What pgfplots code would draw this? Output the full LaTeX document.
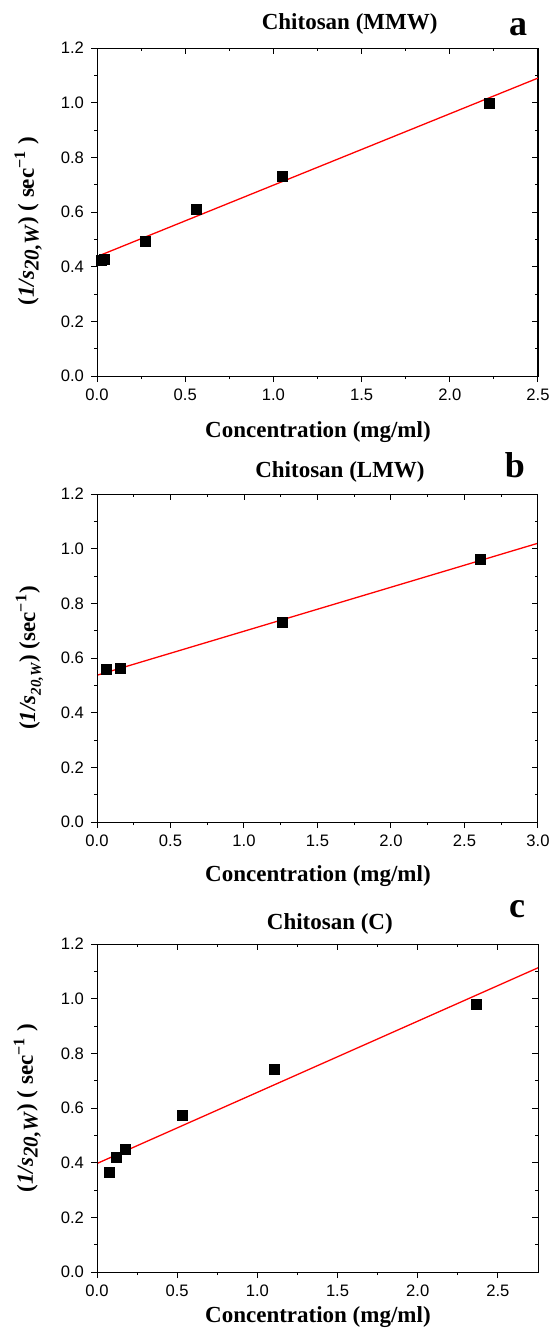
\documentclass[border=0pt]{standalone}
\usepackage{fontspec}
\setmainfont{Liberation Serif}
\setsansfont{Liberation Sans}
\usepackage{pgfplots}
\pgfplotsset{compat=1.18}

\newcommand{\ylabA}{\bfseries (\textit{1/s}\raisebox{-0.45ex}{\textit{\fontsize{10.5}{11}\selectfont 20,W}}) ( sec\textsuperscript{\bfseries −1} )}
\newcommand{\ylabB}{\bfseries (\textit{1/s}\raisebox{-0.55ex}{\textit{\fontsize{7.5}{8}\selectfont 20,W}}) (sec\textsuperscript{−1})}

\pgfplotsset{
  every axis title shift=0pt,
  base/.style={
    scale only axis, width=220.5pt, height=164pt,
    xmin=0, ymin=0, ymax=1.2,
    ytick={0,0.2,...,1.2},
    minor x tick num=1, minor y tick num=1,
    major tick length=3pt, minor tick length=1.5pt,
    axis line style={line width=0.5pt, black},
    every tick/.style={black, line width=0.5pt},
    tick label style={font=\fontsize{8.3}{9}\selectfont\sffamily},
    /pgf/number format/.cd, fixed, fixed zerofill, precision=1, assume math mode=true,
  },
  main/.style={
    base, tick align=outside, xtick pos=left, ytick pos=left,
    xlabel={Concentration (mg/ml)},
    label style={font=\fontsize{11.5}{13}\selectfont\bfseries},
    title style={font=\fontsize{11.5}{13}\selectfont\bfseries, anchor=center},
    xlabel style={anchor=center},
    ylabel style={anchor=center},
  },
  over/.style={
    base, tick align=inside, xtick pos=right, ytick pos=right,
    xticklabels={}, yticklabels={},
  },
  pts/.style={only marks, mark=square*, mark size=2.5pt, black},
  fit/.style={no marks, red, line width=0.65pt},
}

\begin{document}
\begin{tikzpicture}
\useasboundingbox (0pt,0pt) rectangle (276pt,-664.5pt);

% ---------- Panel a ----------
\begin{axis}[main, at={(48.5pt,-24pt)}, anchor=north west,
  xmax=2.5, xtick={0,0.5,...,2.5},
  title={Chitosan (MMW)}, title style={at={(axis description cs:0.573,1.073)}},
  xlabel style={at={(axis description cs:0.501,-0.171)}},
  ylabel={\ylabA}, ylabel style={at={(axis description cs:-0.156,0.472)}}]
\addplot[fit] coordinates {(0,0.437) (2.5,1.090)};
\addplot[pts] coordinates {(0.024,0.423) (0.044,0.427) (0.273,0.493) (0.563,0.610) (1.053,0.731) (2.223,0.999)};
\end{axis}
\begin{axis}[over, at={(48.5pt,-24pt)}, anchor=north west, xmax=2.5, xtick={0,0.5,...,2.5}]
\end{axis}
\node[font=\fontsize{18}{20}\selectfont\bfseries] at (259pt,-13.5pt) {a};

% ---------- Panel b ----------
\begin{axis}[main, at={(48.5pt,-247pt)}, anchor=north west,
  xmax=3, xtick={0,0.5,...,3},
  title={Chitosan (LMW)}, title style={at={(axis description cs:0.551,1.067)}},
  xlabel style={at={(axis description cs:0.501,-0.165)}},
  ylabel={\ylabB}, ylabel style={at={(axis description cs:-0.153,0.5)}}]
\addplot[fit] coordinates {(0,0.537) (3,1.020)};
\addplot[pts] coordinates {(0.067,0.557) (0.158,0.563) (1.261,0.732) (2.61,0.961)};
\end{axis}
\begin{axis}[over, at={(48.5pt,-247pt)}, anchor=north west, xmax=3, xtick={0,0.5,...,3}]
\end{axis}
\node[font=\fontsize{18}{20}\selectfont\bfseries] at (257.5pt,-232.5pt) {b};

% ---------- Panel c ----------
\begin{axis}[main, at={(48.5pt,-472pt)}, anchor=north west,
  xmax=2.75, xtick={0,0.5,...,2.5},
  title={Chitosan (C)}, title style={at={(axis description cs:0.528,1.061)}},
  xlabel style={at={(axis description cs:0.501,-0.137)}},
  ylabel={\ylabA}, ylabel style={at={(axis description cs:-0.158,0.5)}}]
\addplot[fit] coordinates {(0,0.397) (2.75,1.113)};
\addplot[pts] coordinates {(0.075,0.364) (0.119,0.419) (0.174,0.449) (0.532,0.573) (1.109,0.742) (2.365,0.980)};
\end{axis}
\begin{axis}[over, at={(48.5pt,-472pt)}, anchor=north west, xmax=2.75, xtick={0,0.5,...,2.5}]
\end{axis}
\node[font=\fontsize{18}{20}\selectfont\bfseries] at (258.5pt,-454.5pt) {c};

\end{tikzpicture}
\end{document}
